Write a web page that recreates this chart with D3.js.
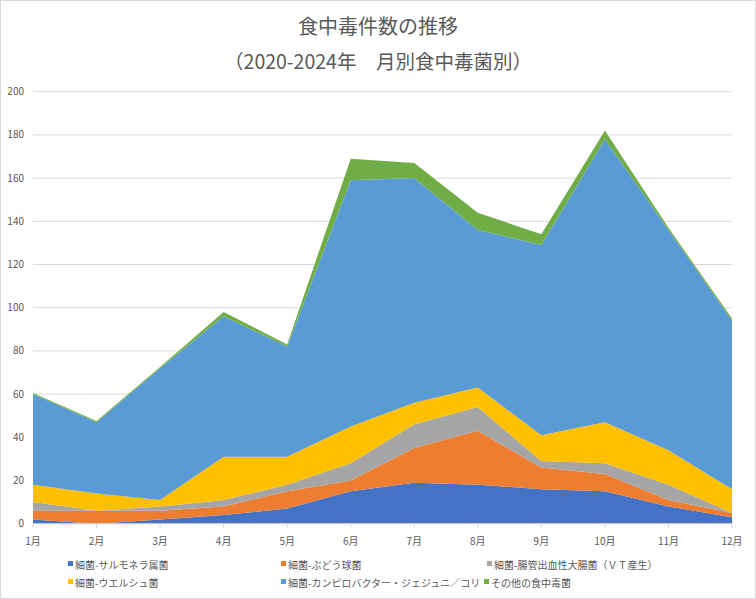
<!DOCTYPE html>
<html>
<head>
<meta charset="utf-8">
<script src="https://cdn.jsdelivr.net/npm/d3@7"></script>
<style>
  body { margin: 0; background: #fff; }
  svg { display: block; font-family: "Noto Sans CJK JP", "Noto Sans", sans-serif; }
</style>
</head>
<body>
<svg id="chart" width="756" height="599"></svg>
<script>
// Chart data
const months = ["1月", "2月", "3月", "4月", "5月", "6月", "7月", "8月", "9月", "10月", "11月", "12月"];
const seriesNames = [
  "細菌-サルモネラ属菌",
  "細菌-ぶどう球菌",
  "細菌-腸管出血性大腸菌（ＶＴ産生）",
  "細菌-ウエルシュ菌",
  "細菌-カンピロバクター・ジェジュニ／コリ",
  "その他の食中毒菌"
];
const salmonella = [2, 0, 2, 4, 7, 15, 19, 18, 16, 15, 8, 3];
const staph = [4, 6, 4, 4, 8, 5, 16, 25, 10, 8, 3, 2];
const ehec = [4, 0, 2, 3, 3, 8, 11, 11, 3, 5, 7, 0];
const welchii = [8, 8, 3, 20, 13, 17, 10, 9, 12, 19, 16, 11];
const campylobacter = [42, 33, 61, 65, 51, 114, 104, 73, 88, 131, 102, 78];
const others = [0.5, 0.5, 0.5, 2, 1, 10, 7, 8, 5, 4, 1, 1];
const yTicks = [0, 20, 40, 60, 80, 100, 120, 140, 160, 180, 200];
const colors = ["#4472C4", "#ED7D31", "#A5A5A5", "#FFC000", "#5B9BD5", "#70AD47"];

const width = 756, height = 599;
const margin = {top: 91.7, right: 24, bottom: 75.3, left: 33};

const svg = d3.select("#chart");

// outer chart border
svg.append("rect")
  .attr("x", 0.5).attr("y", 0.5)
  .attr("width", width - 1).attr("height", height - 1)
  .attr("fill", "#fff")
  .attr("stroke", "#d9d9d9");

// title (two lines)
svg.append("text")
  .attr("x", 378).attr("y", 34)
  .attr("text-anchor", "middle")
  .attr("font-size", 20)
  .attr("fill", "#595959")
  .text("食中毒件数の推移");
svg.append("text")
  .attr("x", 378).attr("y", 69)
  .attr("text-anchor", "middle")
  .attr("font-size", 19.5)
  .attr("fill", "#595959")
  .text("（2020-2024年　月別食中毒菌別）");

// build rows for the stack
const seriesData = [salmonella, staph, ehec, welchii, campylobacter, others];
const rows = months.map((m, i) => {
  const row = {month: m};
  seriesNames.forEach((name, s) => { row[name] = seriesData[s][i]; });
  return row;
});

const stack = d3.stack().keys(seriesNames);
const layers = stack(rows);

const x = d3.scalePoint()
  .domain(months)
  .range([margin.left, width - margin.right]);

const y = d3.scaleLinear()
  .domain([0, 200])
  .range([height - margin.bottom, margin.top]);

// grid lines
svg.append("g")
  .attr("class", "grid")
  .selectAll("line")
  .data(yTicks)
  .join("line")
  .attr("x1", margin.left)
  .attr("x2", width - margin.right)
  .attr("y1", d => y(d))
  .attr("y2", d => y(d))
  .attr("stroke", "#d9d9d9")
  .attr("stroke-width", 1);

// y labels
svg.append("g")
  .selectAll("text")
  .data(yTicks)
  .join("text")
  .attr("x", 24)
  .attr("y", d => y(d) + 3.5)
  .attr("text-anchor", "end")
  .attr("font-size", 10)
  .attr("fill", "#595959")
  .text(d => d);

// stacked areas
const area = d3.area()
  .x(d => x(d.data.month))
  .y0(d => y(d[0]))
  .y1(d => y(d[1]));

svg.append("g")
  .selectAll("path")
  .data(layers)
  .join("path")
  .attr("fill", (d, i) => colors[i])
  .attr("d", area);

// x axis line and ticks
const axisY = y(0);
svg.append("line")
  .attr("x1", margin.left).attr("x2", width - margin.right)
  .attr("y1", axisY).attr("y2", axisY)
  .attr("stroke", "#d9d9d9");

svg.append("g")
  .selectAll("line")
  .data(months)
  .join("line")
  .attr("x1", d => x(d)).attr("x2", d => x(d))
  .attr("y1", axisY).attr("y2", axisY + 5)
  .attr("stroke", "#d9d9d9");

svg.append("g")
  .selectAll("text")
  .data(months)
  .join("text")
  .attr("x", d => x(d))
  .attr("y", axisY + 21)
  .attr("text-anchor", "middle")
  .attr("font-size", 10)
  .attr("fill", "#595959")
  .text(d => d);

// legend
const legendPos = [
  {x: 68, y: 565}, {x: 281, y: 565}, {x: 487, y: 565},
  {x: 68, y: 583}, {x: 281, y: 583}, {x: 484, y: 583}
];
const legend = svg.append("g")
  .selectAll("g")
  .data(seriesNames)
  .join("g")
  .attr("transform", (d, i) => `translate(${legendPos[i].x},${legendPos[i].y})`);

legend.append("rect")
  .attr("x", 0).attr("y", -4)
  .attr("width", 5).attr("height", 5)
  .attr("fill", (d, i) => colors[i]);

legend.append("text")
  .attr("x", 7).attr("y", 1)
  .attr("dominant-baseline", "middle")
  .attr("font-size", 10)
  .attr("fill", "#595959")
  .text(d => d);
</script>
</body>
</html>
